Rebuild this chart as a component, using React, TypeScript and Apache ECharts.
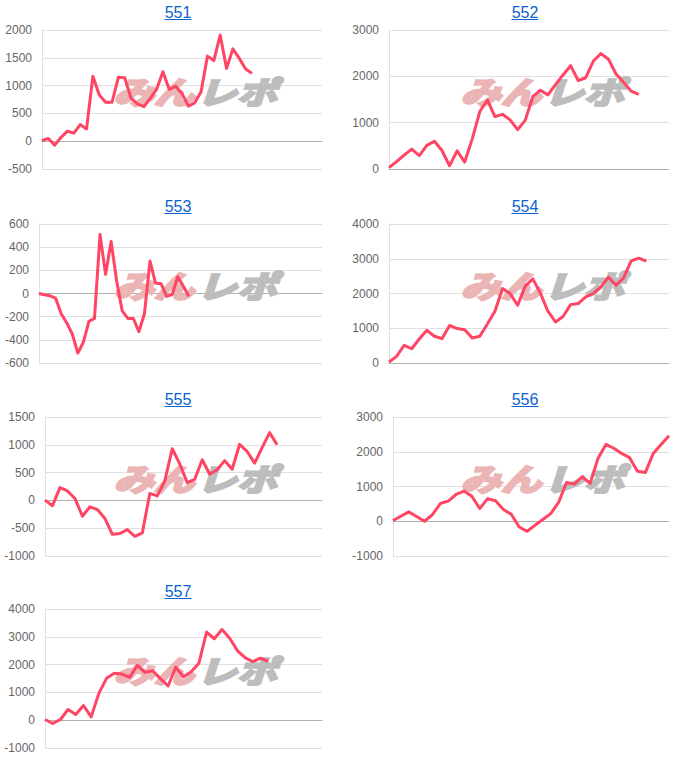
import React, { useEffect, useRef } from "react";
import * as echarts from "echarts";

// Machine numbers (chart titles)
const machines = ["551", "552", "553", "554", "555", "556", "557"];
// Number of x slots (games/days) on each chart's x axis
const slotCounts = [45, 38, 52, 38, 38, 36, 37];

// Y-axis ranges per chart
const yMins = [-500, 0, -600, 0, -1000, -1000, -1000];
const yMaxs = [2000, 3000, 600, 4000, 1500, 3000, 4000];
const yIntervals = [500, 1000, 200, 1000, 500, 1000, 1000];

// Series values (difference in medals)
const s551 = [10, 50, -70, 70, 180, 145, 300, 220, 1170, 830, 700, 700, 1150, 1140, 770, 670, 620, 770, 930, 1250, 930, 990, 860, 630, 690, 890, 1530, 1450, 1910, 1310, 1660, 1490, 1300, 1220];
const s552 = [30, 160, 300, 430, 290, 510, 600, 400, 70, 390, 150, 650, 1240, 1490, 1130, 1180, 1060, 850, 1050, 1560, 1700, 1600, 1820, 2030, 2230, 1910, 1970, 2330, 2490, 2370, 2050, 1870, 1680, 1610];
const s553 = [0, -10, -20, -40, -175, -255, -350, -515, -420, -240, -215, 510, 165, 450, 105, -150, -215, -215, -330, -175, 280, 90, 85, -25, -10, 145, 65, -25];
const s554 = [30, 190, 510, 410, 690, 940, 770, 700, 1080, 990, 960, 720, 770, 1120, 1490, 2140, 2000, 1660, 2210, 2420, 2010, 1490, 1180, 1340, 1680, 1710, 1900, 2000, 2190, 2470, 2240, 2450, 2940, 3020, 2930];
const s555 = [5, -95, 230, 170, 35, -285, -115, -165, -325, -610, -595, -525, -645, -585, 125, 80, 350, 930, 655, 320, 380, 730, 470, 550, 715, 560, 1010, 880, 670, 950, 1220, 1000];
const s556 = [20, 145, 270, 135, 0, 190, 510, 580, 770, 870, 720, 365, 650, 590, 340, 200, -165, -290, -115, 50, 220, 540, 1115, 1070, 1280, 1090, 1810, 2210, 2100, 1950, 1830, 1440, 1400, 1950, 2210, 2460];
const s557 = [25, -120, 25, 385, 205, 530, 120, 965, 1505, 1685, 1660, 1540, 1975, 1720, 1780, 1495, 1230, 1905, 1565, 1745, 2050, 3170, 2930, 3260, 2950, 2505, 2250, 2110, 2230, 2120];
const seriesValues = [s551, s552, s553, s554, s555, s556, s557];

// Watermark text
const markPink = "みん";
const markGray = "レポ";

// Layout (pixel boxes of each plot area)
const grids = [
  { left: 42, top: 30, width: 280, height: 139 },
  { left: 389, top: 30, width: 280, height: 139 },
  { left: 39, top: 224, width: 283, height: 139 },
  { left: 389, top: 224, width: 280, height: 139 },
  { left: 45, top: 417, width: 277, height: 139 },
  { left: 393, top: 417, width: 276, height: 139 },
  { left: 45, top: 609, width: 277, height: 139 },
];
const titlePos = [
  { x: 178, y: 12, u: 19.5 },
  { x: 525, y: 12, u: 19.5 },
  { x: 178, y: 206, u: 213.5 },
  { x: 525, y: 206, u: 213.5 },
  { x: 178, y: 399, u: 406.5 },
  { x: 525, y: 399, u: 406.5 },
  { x: 178, y: 591, u: 598.5 },
];

const LINE = "#ff4563";
const LINK = "#0b63ce";
const FONT = "'Liberation Sans', Arial, sans-serif";

export default function App() {
  const ref = useRef<HTMLDivElement>(null);
  useEffect(() => {
    if (!ref.current) return;
    const chart = echarts.init(ref.current, undefined, { renderer: "svg" });

    const markStyle = (text: string, color: string, align: string) => ({
      text,
      fill: color,
      stroke: color,
      lineWidth: 2.5,
      fontSize: 31,
      fontWeight: "bold",
      fontStyle: "italic",
      fontFamily: "'Noto Sans CJK JP', sans-serif",
      align,
      verticalAlign: "middle",
    });

    const graphic: any[] = [];
    machines.forEach((m, i) => {
      const t = titlePos[i];
      graphic.push({
        type: "text",
        x: t.x,
        y: t.y,
        z: 10,
        style: {
          text: m,
          fill: LINK,
          fontSize: 16,
          fontFamily: FONT,
          align: "center",
          verticalAlign: "middle",
        },
      });
      graphic.push({
        type: "line",
        z: 10,
        shape: { x1: t.x - 13.5, y1: t.u, x2: t.x + 13.5, y2: t.u },
        style: { stroke: LINK, lineWidth: 1 },
      });
      const g = grids[i];
      graphic.push({
        type: "group",
        x: t.x + 17.5,
        y: g.top + 60,
        scaleX: 1.3,
        z: 1,
        children: [
          { type: "text", x: -1, y: 0, z: 1, style: markStyle(markPink, "#ebb5b5", "right") },
          { type: "text", x: 1, y: 0, z: 1, style: markStyle(markGray, "#bdbdbd", "left") },
        ],
      });
    });

    const option: any = {
      animation: false,
      grid: grids.map((g) => ({ ...g, containLabel: false })),
      xAxis: slotCounts.map((n, i) => ({
        type: "category",
        gridIndex: i,
        boundaryGap: false,
        data: Array.from({ length: n }, (_, k) => String(k + 1)),
        axisLine: { show: true, onZero: true, lineStyle: { color: "#b0b0b0", width: 1 } },
        axisTick: { show: false },
        axisLabel: { show: false },
        splitLine: { show: false },
      })),
      yAxis: machines.map((_, i) => ({
        type: "value",
        gridIndex: i,
        min: yMins[i],
        max: yMaxs[i],
        interval: yIntervals[i],
        axisLine: { show: true, lineStyle: { color: "#e0e0e0" } },
        axisTick: { show: false },
        axisLabel: {
          color: "#666",
          fontSize: 12,
          fontFamily: FONT,
          margin: 10,
          formatter: (v: number) => String(v),
        },
        splitLine: { show: true, lineStyle: { color: "#e0e0e0", width: 1 } },
      })),
      series: seriesValues.map((vals, i) => ({
        type: "line",
        xAxisIndex: i,
        yAxisIndex: i,
        data: vals,
        symbol: "none",
        showSymbol: false,
        z: 5,
        lineStyle: { color: LINE, width: 3, join: "round" },
        itemStyle: { color: LINE },
      })),
      graphic,
    };
    chart.setOption(option);
    return () => chart.dispose();
  }, []);
  return (
    <div
      ref={ref}
      style={{ position: "absolute", left: 0, top: 0, width: 700, height: 772, background: "#fff" }}
    />
  );
}
